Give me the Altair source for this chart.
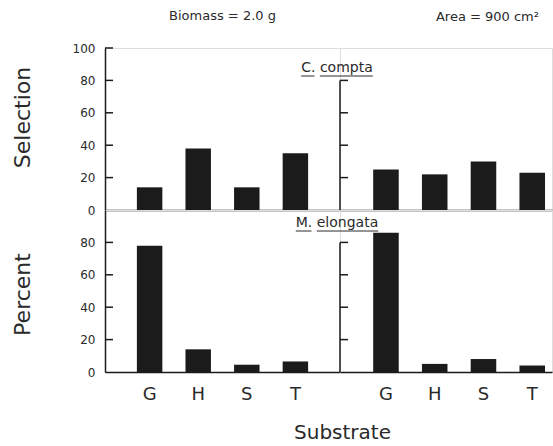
import altair as alt
import pandas as pd

# ---- data ----
substrates = ["G", "H", "S", "T"]
compta_left = [14, 38, 14, 35]
compta_right = [25, 22, 30, 23]
elongata_left = [78, 14, 4.5, 6.5]
elongata_right = [86, 5, 8, 4]
left_ticks_top = [20, 40, 60, 80, 100]
left_ticks_bottom = [20, 40, 60, 80]
left_labels_top = [0, 20, 40, 60, 80, 100]
left_labels_bottom = [0, 20, 40, 60, 80]
right_ticks = [20, 40, 60, 80]
right_axis_top = 80

W_L = 235
W_R = 212
H = 162
INK = "#1b1b1b"
TXT = "#2a2a2a"
FONT = "DejaVu Sans"


def xscale(side):
    if side == "left":
        return alt.Scale(paddingInner=0.476, paddingOuter=0.656)
    return alt.Scale(paddingInner=0.476, paddingOuter=0.412, align=0.826)


YS = alt.Scale(domain=[0, 100], nice=False, zero=True)


def panel(values, side, row, ytitle=None, ytitle_y=0, labels=None):
    df = pd.DataFrame({"substrate": substrates, "pct": values})
    if row == "bottom":
        xaxis = alt.Axis(labels=True, ticks=False, labelAngle=0, labelFont=FONT,
                         labelFontSize=18, labelColor=TXT, labelPadding=13,
                         domainColor=INK, domainWidth=1.5,
                         title=("Substrate" if side == "left" else None),
                         titleFont=FONT, titleFontSize=20, titleFontWeight="normal",
                         titleColor=TXT, titleX=W_L + 2, titleY=66,
                         titleBaseline="alphabetic", titleAlign="center")
    else:
        xaxis = alt.Axis(labels=False, ticks=False, title=None,
                         domainColor=INK, domainWidth=1.5)
    if side == "left":
        yaxis = alt.Axis(values=labels, ticks=False, tickSize=0, grid=False,
                         labelOverlap=False, labelFlush=False, labelBound=False,
                         labelPadding=10, labelFont=FONT, labelFontSize=12,
                         labelColor=TXT, domainColor=INK, domainWidth=1.5,
                         title=ytitle, titleFont=FONT, titleFontSize=22,
                         titleFontWeight="normal", titleColor=TXT,
                         titleX=-71, titleY=ytitle_y, titleAngle=270,
                         titleAlign="center", titleBaseline="bottom")
    else:
        yaxis = None
    bars = alt.Chart(df).mark_bar(color=INK).encode(
        x=alt.X("substrate:N", sort=substrates, scale=xscale(side), axis=xaxis),
        y=alt.Y("pct:Q", scale=YS, axis=yaxis),
    )
    layers = [bars]
    if side == "left":
        ticks = left_ticks_top if row == "top" else left_ticks_bottom
        tdf = pd.DataFrame({"pct": ticks})
        layers.append(alt.Chart(tdf).mark_rule(color=INK, strokeWidth=1.5).encode(
            x=alt.value(0), x2=alt.value(8), y=alt.Y("pct:Q", scale=YS, axis=yaxis)))
    else:
        tdf = pd.DataFrame({"pct": right_ticks})
        layers.append(alt.Chart(tdf).mark_rule(color=INK, strokeWidth=1.5).encode(
            x=alt.value(0), x2=alt.value(8), y=alt.Y("pct:Q", scale=YS, axis=None)))
        layers.append(alt.Chart(pd.DataFrame({"a": [0]})).mark_rule(
            color=INK, strokeWidth=1.5).encode(
            x=alt.value(0), y=alt.datum(0, scale=YS, axis=None), y2=alt.datum(right_axis_top)))
    return alt.layer(*layers).properties(width=W_L if side == "left" else W_R, height=H)


def species_label(text, yv, parts):
    lab = alt.Chart(pd.DataFrame({"a": [0]})).mark_text(
        text=text, font=FONT, fontSize=14, color=TXT, align="center", baseline="middle"
    ).encode(x=alt.value(-3), y=alt.value(yv))
    rules = [alt.Chart(pd.DataFrame({"a": [0]})).mark_rule(color=TXT, strokeWidth=1).encode(
        x=alt.value(a), x2=alt.value(b), y=alt.value(yv + 8)) for a, b in parts]
    return [lab] + rules


tl = panel(compta_left, "left", "top", "Selection", 69, left_labels_top).properties(
    title=alt.TitleParams("Biomass = 2.0 g", anchor="middle", frame="group",
                          font=FONT, fontSize=13, fontWeight="normal", color=TXT, offset=19))
tr_base = panel(compta_right, "right", "top")
tr = alt.layer(tr_base, *species_label("C. compta", 20, [(-38.8, -25.5), (-20.1, 32.8)])).properties(
    width=W_R, height=H,
    title=alt.TitleParams("Area = 900 cm²", anchor="end", frame="group", dx=-13,
                          font=FONT, fontSize=13, fontWeight="normal", color=TXT, offset=24))
bl = panel(elongata_left, "left", "bottom", "Percent", 84, left_labels_bottom)
br_base = panel(elongata_right, "right", "bottom")
br = alt.layer(br_base, *species_label("M. elongata", 13, [(-44.2, -28.5), (-23.2, 38.3)])).properties(
    width=W_R, height=H)

chart = alt.concat(tl, tr, bl, br, columns=2, spacing=0, bounds="flush"
                   ).properties(padding={"left": 10, "top": 9, "right": 0, "bottom": 0}
                   ).configure_view(stroke=None).configure_axis(labelOverlap=False
                   ).configure(background="white")

chart.save("out.html", embed_options={"renderer": "svg", "actions": False})
